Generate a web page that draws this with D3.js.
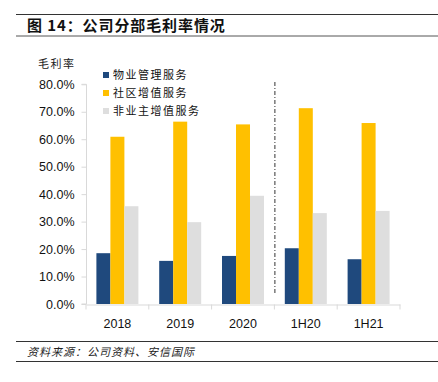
<!DOCTYPE html>
<html>
<head>
<meta charset="utf-8">
<script src="https://cdn.jsdelivr.net/npm/d3@7"></script>
<style>
  body { margin: 0; background: #fff; }
  svg { display: block; }
  text { font-family: "Liberation Sans", Arial, "Noto Sans CJK SC", sans-serif; }
  .cjk { font-family: "Noto Sans CJK SC", sans-serif; }
</style>
</head>
<body>
<svg id="chart" width="438" height="382"></svg>
<script>
// data
const categories = ["2018", "2019", "2020", "1H20", "1H21"];
const seriesNames = ["物业管理服务", "社区增值服务", "非业主增值服务"];
const propertyMgmt = [18.5, 15.7, 17.5, 20.3, 16.3];
const communityVas = [60.9, 66.4, 65.4, 71.3, 65.9];
const nonOwnerVas = [35.6, 29.8, 39.4, 33.1, 33.9];
const yTicks = [0, 10, 20, 30, 40, 50, 60, 70, 80];
const colors = ["#1f497d", "#ffc000", "#dedede"];

const series = [propertyMgmt, communityVas, nonOwnerVas];
const svg = d3.select("#chart");

// header and footer rules
svg.append("line").attr("x1", 16).attr("x2", 438).attr("y1", 14.5).attr("y2", 14.5)
  .attr("stroke", "#333").attr("stroke-width", 1.2);
svg.append("line").attr("x1", 16).attr("x2", 438).attr("y1", 36).attr("y2", 36)
  .attr("stroke", "#555").attr("stroke-width", 1);
svg.append("text").attr("class", "cjk").attr("x", 27).attr("y", 31)
  .attr("font-size", 15).attr("font-weight", "bold").attr("fill", "#111")
  .attr("letter-spacing", 0.9)
  .text("图 14：公司分部毛利率情况");

svg.append("line").attr("x1", 16).attr("x2", 438).attr("y1", 341.5).attr("y2", 341.5)
  .attr("stroke", "#333").attr("stroke-width", 1);
svg.append("line").attr("x1", 16).attr("x2", 438).attr("y1", 361.5).attr("y2", 361.5)
  .attr("stroke", "#333").attr("stroke-width", 1);
svg.append("text").attr("class", "cjk").attr("x", 27).attr("y", 356)
  .attr("font-size", 11).attr("font-style", "italic").attr("fill", "#222")
  .attr("letter-spacing", 1.0)
  .text("资料来源：公司资料、安信国际");

// plot
const x0 = d3.scaleBand().domain(categories).range([86, 400]);
const x1 = d3.scaleBand().domain(d3.range(3)).range([10.4, x0.bandwidth() - 10.4]);
const y = d3.scaleLinear().domain([0, 80]).range([304, 84.3]);

svg.append("text").attr("class", "cjk").attr("x", 38).attr("y", 68)
  .attr("font-size", 11).attr("fill", "#222").attr("letter-spacing", 1.5).text("毛利率");

const gy = svg.append("g").attr("transform", "translate(86.5,0)")
  .call(d3.axisLeft(y).tickValues(yTicks).tickSize(5).tickPadding(7)
    .tickFormat(d => d3.format(".1f")(d) + "%"));
gy.selectAll("line, path").attr("stroke", "#d9d9d9");
gy.select(".domain").attr("d", `M-5,${y(0)}H0V${y(80)}H-5`);
gy.selectAll("text").attr("font-size", 12.5).attr("fill", "#111")
  .attr("font-family", "Liberation Sans, Arial, sans-serif");

// bars
const groups = svg.selectAll("g.cat").data(categories).join("g")
  .attr("class", "cat")
  .attr("transform", d => `translate(${x0(d)},0)`);
groups.selectAll("rect").data((d, i) => series.map((s, k) => ({ k, v: s[i] }))).join("rect")
  .attr("x", d => x1(d.k))
  .attr("width", x1.bandwidth())
  .attr("y", d => y(d.v))
  .attr("height", d => y(0) - y(d.v))
  .attr("fill", d => colors[d.k]);

const gx = svg.append("g").attr("transform", `translate(0,${y(0) + 0.5})`)
  .call(d3.axisBottom(x0).tickSize(0).tickPadding(15));
gx.selectAll("line").remove();
gx.select(".domain").attr("stroke", "#d9d9d9");
gx.selectAll("text").attr("font-size", 12.5).attr("fill", "#111")
  .attr("font-family", "Liberation Sans, Arial, sans-serif");
gx.selectAll("line.sep").data(categories.concat([null])).join("line")
  .attr("class", "sep")
  .attr("x1", (d, i) => 86 + i * x0.step()).attr("x2", (d, i) => 86 + i * x0.step())
  .attr("y1", 0).attr("y2", 5)
  .attr("stroke", "#d9d9d9");

// divider between annual and half-year
const divX = x0("1H20") + 0.5;
svg.append("line").attr("x1", divX).attr("x2", divX).attr("y1", 82).attr("y2", 293)
  .attr("stroke", "#333").attr("stroke-width", 1).attr("stroke-dasharray", "4,2,1,2");

// legend
const legend = svg.selectAll("g.leg").data(seriesNames).join("g")
  .attr("class", "leg")
  .attr("transform", (d, i) => `translate(103,${75 + i * 18})`);
legend.append("rect").attr("x", 0).attr("y", -3).attr("width", 6).attr("height", 6)
  .attr("fill", (d, i) => colors[i]);
legend.append("text").attr("class", "cjk").attr("x", 10).attr("y", 4)
  .attr("font-size", 11).attr("fill", "#111").attr("letter-spacing", 1.5)
  .text(d => d);
</script>
</body>
</html>
